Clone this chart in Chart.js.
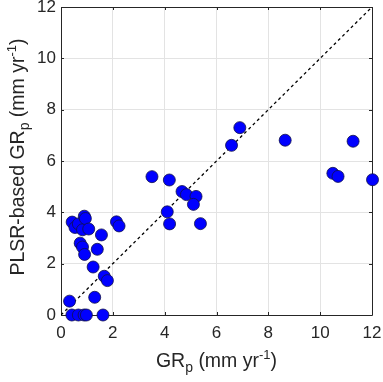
<!DOCTYPE html>
<html>
<head>
<meta charset="utf-8">
<script src="https://cdn.jsdelivr.net/npm/chart.js@4"></script>
<style>
  html, body { margin: 0; padding: 0; background: #fff; }
  #wrap { width: 383px; height: 382px; }
</style>
</head>
<body>
<div id="wrap"><canvas id="myChart" width="383" height="382"></canvas></div>
<script>
// measured GRp vs PLSR-based GRp (mm yr-1)
const grMeasured = [0.33, 0.42, 0.67, 0.89, 0.98, 1.62, 0.43, 0.54, 0.67, 0.83, 0.90, 0.94, 1.07,
  0.74, 0.83, 0.91, 1.40, 1.56, 1.24, 1.30, 1.67, 1.79, 2.14, 2.24, 3.51, 4.18, 4.10, 4.19,
  4.67, 4.84, 5.21, 5.11, 5.38, 6.58, 6.90, 8.65, 10.49, 10.69, 11.27, 12.02];
const grPlsr = [0.54, 0, 0, 0, 0, 0, 3.62, 3.41, 3.55, 3.32, 3.85, 3.76, 3.35,
  2.80, 2.65, 2.36, 2.56, 3.12, 1.87, 0.69, 1.51, 1.34, 3.63, 3.47, 5.39, 5.26, 4.02, 3.55,
  4.81, 4.69, 4.62, 4.31, 3.56, 6.61, 7.30, 6.81, 5.52, 5.40, 6.77, 5.27];
const oneToOne = [0, 12];
const tickValues = [0, 2, 4, 6, 8, 10, 12];

const points = grMeasured.map(function(x, i) { return { x: x, y: grPlsr[i] }; });
const lineData = oneToOne.map(function(v) { return { x: v, y: v }; });

const axisColor = "#262626";
const fontFam = "'Liberation Sans', Arial, sans-serif";

function setTicks(scale) {
  scale.ticks = tickValues.map(function(v) { return { value: v }; });
}

// draws text with a subscript / superscript piece list
function drawRich(ctx, parts, x, y, align) {
  let total = 0;
  parts.forEach(function(p) {
    ctx.font = p.size + "px " + fontFam;
    p.w = ctx.measureText(p.t).width;
    total += p.w;
  });
  let cx = align === "center" ? x - total / 2 : x;
  parts.forEach(function(p) {
    ctx.font = p.size + "px " + fontFam;
    ctx.fillText(p.t, cx, y + (p.dy || 0));
    cx += p.w;
  });
}

const framePlugin = {
  id: "frame",
  beforeDatasetsDraw: function(chart) {
    const ctx = chart.ctx;
    const a = chart.chartArea;
    const xs = chart.scales.x, ys = chart.scales.y;
    ctx.save();
    ctx.strokeStyle = axisColor;
    ctx.lineWidth = 1;
    ctx.beginPath();
    ctx.rect(Math.round(a.left) + 0.5, Math.round(a.top) + 0.5, Math.round(a.right - a.left), Math.round(a.bottom - a.top));
    // inside ticks
    tickValues.forEach(function(v) {
      const px = Math.round(xs.getPixelForValue(v)) + 0.5;
      ctx.moveTo(px, a.bottom); ctx.lineTo(px, a.bottom - 3);
      ctx.moveTo(px, a.top); ctx.lineTo(px, a.top + 3);
      const py = Math.round(ys.getPixelForValue(v)) + 0.5;
      ctx.moveTo(a.left, py); ctx.lineTo(a.left + 3, py);
      ctx.moveTo(a.right, py); ctx.lineTo(a.right - 3, py);
    });
    ctx.stroke();
    ctx.restore();
  },
  afterDraw: function(chart) {
    const ctx = chart.ctx;
    const a = chart.chartArea;
    ctx.save();
    ctx.fillStyle = axisColor;
    ctx.textBaseline = "alphabetic";
    ctx.textAlign = "left";
    // x title
    drawRich(ctx, [
      { t: "GR", size: 19.5 },
      { t: "p", size: 14, dy: 5 },
      { t: " (mm yr", size: 19.5 },
      { t: "-1", size: 13, dy: -8 },
      { t: ")", size: 19.5 }
    ], (a.left + a.right) / 2, 367, "center");
    // y title
    ctx.translate(24, 157);
    ctx.rotate(-Math.PI / 2);
    drawRich(ctx, [
      { t: "PLSR-based GR", size: 19.5 },
      { t: "p", size: 14, dy: 5 },
      { t: " (mm yr", size: 19.5 },
      { t: "-1", size: 13, dy: -8 },
      { t: ")", size: 19.5 }
    ], 0, 0, "center");
    ctx.restore();
  }
};

const ctx = document.getElementById("myChart");

let config = {
  type: "scatter",
  data: {
    datasets: [{
      label: "points",
      data: points,
      backgroundColor: "#0000ff",
      borderColor: "#10104a",
      borderWidth: 0.8,
      pointRadius: 6,
      pointHoverRadius: 6,
      clip: false,
      order: 1
    }, {
      label: "1:1",
      data: lineData,
      showLine: true,
      borderColor: "#000000",
      borderWidth: 1.3,
      borderDash: [3, 3],
      pointRadius: 0,
      fill: false,
      order: 2
    }]
  },
  options: {
    responsive: false,
    animation: false,
    layout: { padding: { top: 7, right: 11, left: 0, bottom: 0 } },
    plugins: { legend: { display: false }, tooltip: { enabled: false } },
    scales: {
      x: {
        type: "linear",
        min: 0, max: 12,
        afterBuildTicks: setTicks,
        afterFit: function(scale) {
          scale.height = 67;
          scale.paddingLeft = 0; scale.paddingRight = 0;
        },
        grid: { color: "#e3e3e3", drawTicks: false },
        border: { display: false },
        ticks: { padding: 8, color: axisColor, font: { size: 17, family: fontFam } }
      },
      y: {
        type: "linear",
        min: 0, max: 12,
        afterBuildTicks: setTicks,
        afterFit: function(scale) {
          scale.width = 61;
          scale.paddingTop = 0; scale.paddingBottom = 0;
        },
        grid: { color: "#e3e3e3", drawTicks: false },
        border: { display: false },
        ticks: { padding: 5, color: axisColor, font: { size: 17, family: fontFam } }
      }
    }
  },
  plugins: [framePlugin]
};

let myChart = new Chart(ctx, config);
</script>
</body>
</html>
